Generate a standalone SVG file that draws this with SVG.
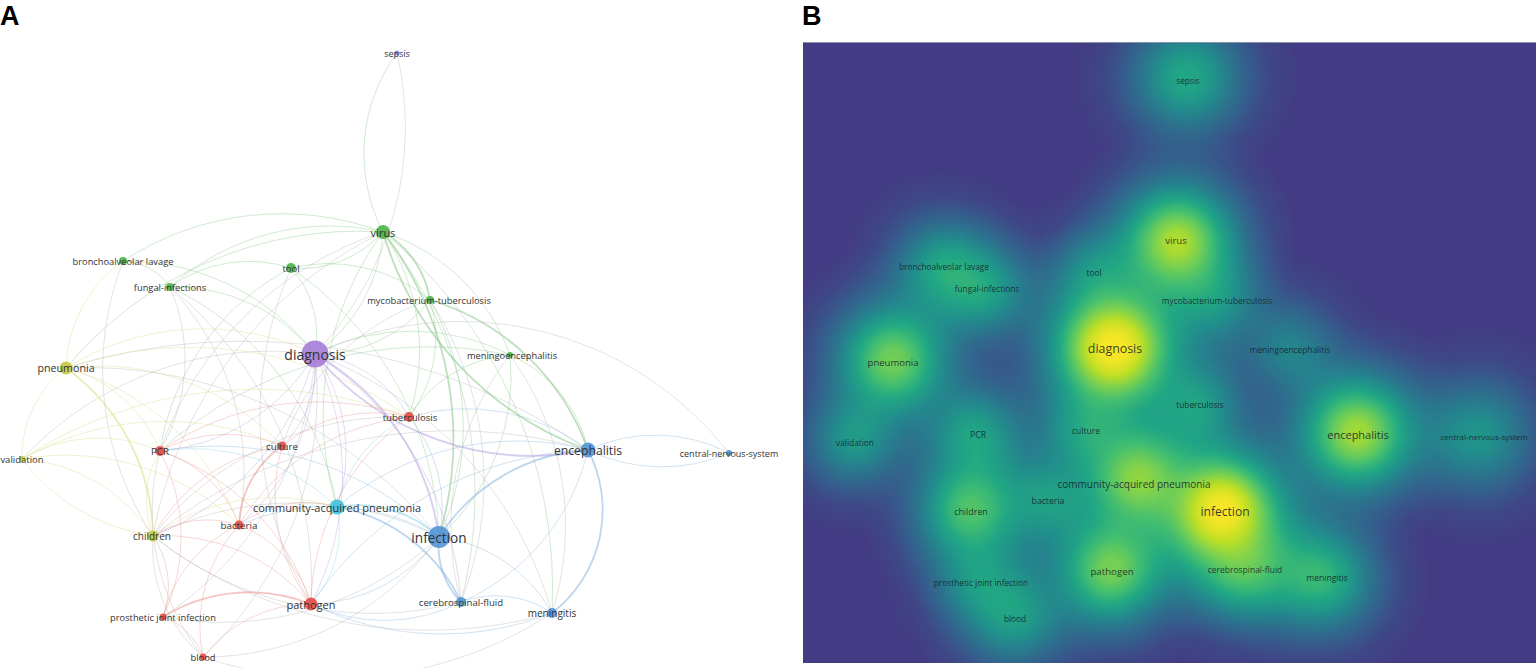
<svg xmlns="http://www.w3.org/2000/svg" width="1536" height="668" viewBox="0 0 1536 668">
<style>
.panel{font-family:"Liberation Sans",Arial,sans-serif;font-weight:bold;font-size:27px;fill:#000}
.lbl{font-family:"Open Sans","DejaVu Sans",sans-serif;fill:#333;text-anchor:middle;dominant-baseline:central}
.hl{font-family:"Open Sans","DejaVu Sans",sans-serif;fill:#15202a;fill-opacity:0.85;text-anchor:middle;dominant-baseline:central}
#edges path{fill:none;stroke-width:0.75;stroke-opacity:0.5}
#edges .g{stroke:#86c686}
#edges .p{stroke:#b8a0e2}
#edges .b{stroke:#86b4e0}
#edges .c{stroke:#86d2e4}
#edges .r{stroke:#ea9690}
#edges .y{stroke:#dada84}
#edges .x{stroke:#b4b4b4}
#edges .t{stroke-width:1.8;stroke-opacity:0.55}
.ng{fill:#45b043}.np{fill:#a47ad6}.ny{fill:#c5c53a}.nr{fill:#e2473f}.nb{fill:#4d92d4}.nc{fill:#3cc0d9}.ns{fill:#8c86c9}
circle.n{fill-opacity:0.88}
.k{fill:url(#kern)}
</style>
<defs>
<radialGradient id="kern">
<stop offset="0" stop-color="#fff" stop-opacity="1"/>
<stop offset="0.1" stop-color="#fff" stop-opacity="0.956"/>
<stop offset="0.2" stop-color="#fff" stop-opacity="0.835"/>
<stop offset="0.3" stop-color="#fff" stop-opacity="0.667"/>
<stop offset="0.4" stop-color="#fff" stop-opacity="0.487"/>
<stop offset="0.5" stop-color="#fff" stop-opacity="0.325"/>
<stop offset="0.6" stop-color="#fff" stop-opacity="0.198"/>
<stop offset="0.7" stop-color="#fff" stop-opacity="0.110"/>
<stop offset="0.8" stop-color="#fff" stop-opacity="0.056"/>
<stop offset="0.9" stop-color="#fff" stop-opacity="0.024"/>
<stop offset="1" stop-color="#fff" stop-opacity="0"/>
</radialGradient>
<clipPath id="clipB"><rect x="803" y="42" width="733" height="621"/></clipPath>
<filter id="viridis" filterUnits="userSpaceOnUse" x="803" y="42" width="733" height="621" color-interpolation-filters="sRGB">
<feComponentTransfer>
<feFuncR type="table" tableValues="0.263 0.208 0.165 0.129 0.133 0.267 0.478 0.741 0.992"/>
<feFuncG type="table" tableValues="0.239 0.373 0.471 0.569 0.659 0.749 0.820 0.875 0.906"/>
<feFuncB type="table" tableValues="0.518 0.553 0.557 0.549 0.518 0.439 0.318 0.149 0.145"/>
<feFuncA type="linear" slope="0" intercept="1"/>
</feComponentTransfer>
</filter>
</defs>
<rect width="1536" height="668" fill="#fff"/>
<text class="panel" x="0" y="25">A</text>
<text class="panel" x="802" y="25">B</text>

<!-- Panel A connectors -->
<g id="edges">
<path class="g" d="M383 232 A170 170 0 0 1 397 53"/>
<path class="x" d="M397 53 A330 330 0 0 1 315 354"/>
<path class="g" d="M383 232 A110 110 0 0 1 291 268"/>
<path class="g" d="M66 368 A380 380 0 0 1 383 232"/>
<path class="g" d="M123 261 A290 290 0 0 1 383 232"/>
<path class="g" d="M170 287 A240 240 0 0 1 383 232"/>
<path class="g t" d="M383 232 A95 95 0 0 1 430 300"/>
<path class="g" d="M383 232 A160 160 0 0 1 315 354"/>
<path class="g" d="M383 232 A200 200 0 0 1 510 355"/>
<path class="g t" d="M588 450 A330 330 0 0 1 383 232"/>
<path class="g t" d="M383 232 A340 340 0 0 1 439 537"/>
<path class="g" d="M383 232 A210 210 0 0 1 409 417"/>
<path class="g" d="M337 507 A310 310 0 0 1 383 232"/>
<path class="g" d="M383 232 A420 420 0 0 1 461 602"/>
<path class="g" d="M383 232 A460 460 0 0 1 552 613"/>
<path class="x" d="M160 451 A350 350 0 0 1 383 232"/>
<path class="x" d="M153 536 A420 420 0 0 1 383 232"/>
<path class="g" d="M291 268 A100 100 0 0 1 315 354"/>
<path class="g" d="M291 268 A160 160 0 0 1 430 300"/>
<path class="g" d="M160 451 A250 250 0 0 1 291 268"/>
<path class="g" d="M170 287 A135 135 0 0 1 291 268"/>
<path class="g" d="M291 268 A340 340 0 0 1 439 537"/>
<path class="x" d="M311 604 A370 370 0 0 1 291 268"/>
<path class="g" d="M123 261 A60 60 0 0 1 170 287"/>
<path class="g" d="M123 261 A240 240 0 0 1 315 354"/>
<path class="y" d="M66 368 A135 135 0 0 1 123 261"/>
<path class="x" d="M153 536 A300 300 0 0 1 123 261"/>
<path class="g" d="M170 287 A180 180 0 0 1 315 354"/>
<path class="x" d="M170 287 A180 180 0 0 1 160 451"/>
<path class="g" d="M170 287 A300 300 0 0 1 337 507"/>
<path class="x" d="M170 287 A270 270 0 0 1 239 525"/>
<path class="x" d="M170 287 A380 380 0 0 1 311 604"/>
<path class="g" d="M430 300 A140 140 0 0 1 315 354"/>
<path class="g" d="M430 300 A130 130 0 0 1 409 417"/>
<path class="g t" d="M430 300 A240 240 0 0 1 588 450"/>
<path class="g" d="M430 300 A260 260 0 0 1 439 537"/>
<path class="x" d="M282 446 A230 230 0 0 1 430 300"/>
<path class="x" d="M430 300 A330 330 0 0 1 461 602"/>
<path class="g" d="M510 355 A135 135 0 0 1 588 450"/>
<path class="g" d="M510 355 A215 215 0 0 1 439 537"/>
<path class="g" d="M315 354 A215 215 0 0 1 510 355"/>
<path class="x" d="M510 355 A290 290 0 0 1 552 613"/>
<path class="g" d="M409 417 A130 130 0 0 1 510 355"/>
<path class="g" d="M160 451 A400 400 0 0 1 510 355"/>
<path class="x" d="M461 602 A280 280 0 0 1 510 355"/>
<path class="p t" d="M315 354 A250 250 0 0 1 439 537"/>
<path class="p t" d="M588 450 A281 281 0 0 1 315 354"/>
<path class="p" d="M315 354 A125 125 0 0 1 409 417"/>
<path class="p" d="M315 354 A110 110 0 0 1 282 446"/>
<path class="p" d="M315 354 A200 200 0 0 1 160 451"/>
<path class="p" d="M315 354 A210 210 0 0 1 239 525"/>
<path class="p" d="M315 354 A280 280 0 0 1 311 604"/>
<path class="p" d="M315 354 A270 270 0 0 1 153 536"/>
<path class="p" d="M315 354 A170 170 0 0 1 337 507"/>
<path class="y" d="M66 368 A260 260 0 0 1 315 354"/>
<path class="p" d="M315 354 A320 320 0 0 1 461 602"/>
<path class="x" d="M315 354 A390 390 0 0 1 552 613"/>
<path class="x" d="M22 459 A340 340 0 0 1 315 354"/>
<path class="x" d="M315 354 A340 340 0 0 1 163 617"/>
<path class="x" d="M315 354 A360 360 0 0 1 203 657"/>
<path class="b t" d="M439 537 A190 190 0 0 1 588 450"/>
<path class="b" d="M439 537 A150 150 0 0 1 552 613"/>
<path class="b t" d="M461 602 A80 80 0 0 1 439 537"/>
<path class="c t" d="M337 507 A120 120 0 0 1 439 537"/>
<path class="b" d="M439 537 A160 160 0 0 1 311 604"/>
<path class="x" d="M153 536 A320 320 0 0 1 439 537"/>
<path class="b" d="M239 525 A220 220 0 0 1 439 537"/>
<path class="b" d="M160 451 A320 320 0 0 1 439 537"/>
<path class="b" d="M409 417 A140 140 0 0 1 439 537"/>
<path class="x" d="M439 537 A290 290 0 0 1 203 657"/>
<path class="x" d="M439 537 A320 320 0 0 1 163 617"/>
<path class="x" d="M66 368 A450 450 0 0 1 439 537"/>
<path class="b" d="M588 450 A160 160 0 0 1 729 453"/>
<path class="b" d="M729 453 A170 170 0 0 1 588 450"/>
<path class="x" d="M315 354 A340 340 0 0 1 729 453"/>
<path class="b t" d="M588 450 A130 130 0 0 1 552 613"/>
<path class="b" d="M588 450 A220 220 0 0 1 461 602"/>
<path class="b" d="M409 417 A200 200 0 0 1 588 450"/>
<path class="b" d="M337 507 A280 280 0 0 1 588 450"/>
<path class="x" d="M153 536 A480 480 0 0 1 588 450"/>
<path class="x" d="M66 368 A600 600 0 0 1 588 450"/>
<path class="b" d="M311 604 A350 350 0 0 1 588 450"/>
<path class="b" d="M461 602 A100 100 0 0 1 552 613"/>
<path class="b" d="M552 613 A300 300 0 0 1 311 604"/>
<path class="b" d="M461 602 A170 170 0 0 1 311 604"/>
<path class="x" d="M552 613 A450 450 0 0 1 153 536"/>
<path class="x" d="M552 613 A400 400 0 0 1 203 657"/>
<path class="x" d="M461 602 A350 350 0 0 1 153 536"/>
<path class="b t" d="M337 507 A170 170 0 0 1 461 602"/>
<path class="c" d="M337 507 A110 110 0 0 1 311 604"/>
<path class="r" d="M239 525 A110 110 0 0 1 337 507"/>
<path class="y" d="M153 536 A210 210 0 0 1 337 507"/>
<path class="c" d="M160 451 A210 210 0 0 1 337 507"/>
<path class="c" d="M337 507 A130 130 0 0 1 409 417"/>
<path class="r" d="M160 451 A140 140 0 0 1 282 446"/>
<path class="r" d="M160 451 A120 120 0 0 1 239 525"/>
<path class="r" d="M160 451 A240 240 0 0 1 311 604"/>
<path class="r" d="M160 451 A280 280 0 0 1 409 417"/>
<path class="y" d="M153 536 A95 95 0 0 1 160 451"/>
<path class="r" d="M160 451 A185 185 0 0 1 163 617"/>
<path class="x" d="M203 657 A235 235 0 0 1 160 451"/>
<path class="y" d="M66 368 A140 140 0 0 1 160 451"/>
<path class="r" d="M239 525 A120 120 0 0 1 311 604"/>
<path class="r" d="M153 536 A100 100 0 0 1 239 525"/>
<path class="r t" d="M239 525 A100 100 0 0 1 282 446"/>
<path class="r" d="M239 525 A225 225 0 0 1 409 417"/>
<path class="r" d="M163 617 A135 135 0 0 1 239 525"/>
<path class="r" d="M203 657 A150 150 0 0 1 239 525"/>
<path class="r t" d="M163 617 A165 165 0 0 1 311 604"/>
<path class="r" d="M203 657 A135 135 0 0 1 311 604"/>
<path class="r" d="M153 536 A190 190 0 0 1 311 604"/>
<path class="r" d="M311 604 A180 180 0 0 1 282 446"/>
<path class="r" d="M311 604 A235 235 0 0 1 409 417"/>
<path class="r" d="M163 617 A65 65 0 0 1 203 657"/>
<path class="r" d="M153 536 A90 90 0 0 1 163 617"/>
<path class="x" d="M203 657 A145 145 0 0 1 153 536"/>
<path class="r" d="M282 446 A145 145 0 0 1 409 417"/>
<path class="r" d="M153 536 A175 175 0 0 1 282 446"/>
<path class="x" d="M153 536 A310 310 0 0 1 409 417"/>
<path class="y" d="M22 459 A110 110 0 0 1 66 368"/>
<path class="y t" d="M66 368 A210 210 0 0 1 153 536"/>
<path class="y" d="M22 459 A170 170 0 0 1 153 536"/>
<path class="y" d="M22 459 A150 150 0 0 1 160 451"/>
<path class="y" d="M66 368 A250 250 0 0 1 282 446"/>
<path class="y" d="M22 459 A250 250 0 0 1 239 525"/>
<path class="y" d="M22 459 A290 290 0 0 1 282 446"/>
<path class="y" d="M66 368 A260 260 0 0 1 239 525"/>
<path class="y" d="M66 368 A380 380 0 0 1 409 417"/>
<path class="y" d="M22 459 A430 430 0 0 1 409 417"/>
<path class="y" d="M153 536 A200 200 0 0 1 22 459"/>
</g>

<!-- Panel A nodes -->
<g id="n-sepsis"><circle class="n ns" cx="397" cy="53" r="2.5"/><text class="lbl" x="397" y="53" font-size="9">sepsis</text></g>
<g id="n-virus"><circle class="n ng" cx="383" cy="232" r="7"/><text class="lbl" x="383" y="232" font-size="11">virus</text></g>
<g id="n-bronchoalveolar-lavage"><circle class="n ng" cx="123" cy="261" r="4"/><text class="lbl" x="123" y="261" font-size="9.3">bronchoalveolar lavage</text></g>
<g id="n-tool"><circle class="n ng" cx="291" cy="268" r="5"/><text class="lbl" x="291" y="268" font-size="9.5">tool</text></g>
<g id="n-fungal-infections"><circle class="n ng" cx="170" cy="287" r="4"/><text class="lbl" x="170" y="287" font-size="9.3">fungal-infections</text></g>
<g id="n-mycobacterium-tuberculosis"><circle class="n ng" cx="430" cy="300" r="4"/><text class="lbl" x="429" y="300" font-size="9.3">mycobacterium-tuberculosis</text></g>
<g id="n-diagnosis"><circle class="n np" cx="315" cy="354" r="13.5"/><text class="lbl" x="315" y="354" font-size="14">diagnosis</text></g>
<g id="n-meningoencephalitis"><circle class="n ng" cx="510" cy="355" r="3"/><text class="lbl" x="512" y="355" font-size="9.3">meningoencephalitis</text></g>
<g id="n-pneumonia"><circle class="n ny" cx="66" cy="368" r="6.5"/><text class="lbl" x="66" y="368" font-size="10.7">pneumonia</text></g>
<g id="n-tuberculosis"><circle class="n nr" cx="409" cy="417" r="5"/><text class="lbl" x="410" y="417" font-size="9.6">tuberculosis</text></g>
<g id="n-culture"><circle class="n nr" cx="282" cy="446" r="4.5"/><text class="lbl" x="282" y="446" font-size="9.7">culture</text></g>
<g id="n-PCR"><circle class="n nr" cx="160" cy="451" r="5"/><text class="lbl" x="160" y="451" font-size="9.7">PCR</text></g>
<g id="n-validation"><circle class="n ny" cx="22" cy="459" r="3"/><text class="lbl" x="22" y="459" font-size="9.5">validation</text></g>
<g id="n-encephalitis"><circle class="n nb" cx="588" cy="450" r="7.5"/><text class="lbl" x="588" y="450" font-size="12.2">encephalitis</text></g>
<g id="n-central-nervous-system"><circle class="n nb" cx="729" cy="453" r="3"/><text class="lbl" x="729" y="453" font-size="9">central-nervous-system</text></g>
<g id="n-community-acquired-pneumonia"><circle class="n nc" cx="337" cy="507" r="7.5"/><text class="lbl" x="337" y="507" font-size="11">community-acquired pneumonia</text></g>
<g id="n-bacteria"><circle class="n nr" cx="239" cy="525" r="4.5"/><text class="lbl" x="239" y="525" font-size="9.8">bacteria</text></g>
<g id="n-children"><circle class="n ny" cx="153" cy="536" r="5.5"/><text class="lbl" x="152" y="536" font-size="10">children</text></g>
<g id="n-infection"><circle class="n nb" cx="439" cy="537" r="11"/><text class="lbl" x="439" y="537" font-size="13.6">infection</text></g>
<g id="n-pathogen"><circle class="n nr" cx="311" cy="604" r="6.5"/><text class="lbl" x="311" y="604" font-size="11">pathogen</text></g>
<g id="n-cerebrospinal-fluid"><circle class="n nb" cx="461" cy="602" r="5"/><text class="lbl" x="461" y="602" font-size="9.6">cerebrospinal-fluid</text></g>
<g id="n-meningitis"><circle class="n nb" cx="552" cy="613" r="5"/><text class="lbl" x="552" y="613" font-size="10">meningitis</text></g>
<g id="n-prosthetic-joint-infection"><circle class="n nr" cx="163" cy="617" r="3.5"/><text class="lbl" x="163" y="617" font-size="9.3">prosthetic joint infection</text></g>
<g id="n-blood"><circle class="n nr" cx="203" cy="657" r="3.5"/><text class="lbl" x="203" y="657" font-size="9.4">blood</text></g>

<!-- Panel B density map (kernel radius = 3 sigma) -->
<g id="density" clip-path="url(#clipB)">
<g filter="url(#viridis)">
<rect x="803" y="42" width="733" height="621" fill="#000"/>
<circle class="k" cx="1187" cy="78" r="112" fill-opacity="0.5"/>
<circle class="k" cx="1177" cy="242" r="120" fill-opacity="0.86"/>
<circle class="k" cx="943" cy="268" r="100" fill-opacity="0.45"/>
<circle class="k" cx="1093" cy="271" r="88" fill-opacity="0.28"/>
<circle class="k" cx="985" cy="290" r="94" fill-opacity="0.42"/>
<circle class="k" cx="1217" cy="300" r="94" fill-opacity="0.33"/>
<circle class="k" cx="1114" cy="348" r="134" fill-opacity="1"/>
<circle class="k" cx="1114" cy="348" r="66" fill-opacity="0.6"/>
<circle class="k" cx="1290" cy="349" r="94" fill-opacity="0.3"/>
<circle class="k" cx="893" cy="360" r="116" fill-opacity="0.74"/>
<circle class="k" cx="1198" cy="404" r="94" fill-opacity="0.4"/>
<circle class="k" cx="1085" cy="430" r="94" fill-opacity="0.36"/>
<circle class="k" cx="976" cy="434" r="100" fill-opacity="0.45"/>
<circle class="k" cx="854" cy="441" r="94" fill-opacity="0.4"/>
<circle class="k" cx="1357" cy="433" r="120" fill-opacity="0.84"/>
<circle class="k" cx="1478" cy="436" r="112" fill-opacity="0.4"/>
<circle class="k" cx="1138" cy="478" r="114" fill-opacity="0.76"/>
<circle class="k" cx="1047" cy="500" r="94" fill-opacity="0.38"/>
<circle class="k" cx="970" cy="510" r="110" fill-opacity="0.64"/>
<circle class="k" cx="1222" cy="511" r="128" fill-opacity="1"/>
<circle class="k" cx="1222" cy="511" r="60" fill-opacity="0.5"/>
<circle class="k" cx="1111" cy="570" r="115" fill-opacity="0.74"/>
<circle class="k" cx="1244" cy="569" r="110" fill-opacity="0.55"/>
<circle class="k" cx="1322" cy="578" r="110" fill-opacity="0.56"/>
<circle class="k" cx="979" cy="582" r="94" fill-opacity="0.35"/>
<circle class="k" cx="1015" cy="618" r="100" fill-opacity="0.42"/>
</g>
</g>
<line x1="803" y1="42.5" x2="1536" y2="42.5" stroke="#8890a8" stroke-width="1"/>

<!-- Panel B labels -->
<g id="b-sepsis"><text class="hl" x="1188" y="80" font-size="8.2">sepsis</text></g>
<g id="b-virus"><text class="hl" x="1176" y="240" font-size="9.6">virus</text></g>
<g id="b-bronchoalveolar-lavage"><text class="hl" x="944" y="266" font-size="8.3">bronchoalveolar lavage</text></g>
<g id="b-tool"><text class="hl" x="1094" y="272" font-size="8.3">tool</text></g>
<g id="b-fungal-infections"><text class="hl" x="987" y="288" font-size="8.3">fungal-infections</text></g>
<g id="b-mycobacterium-tuberculosis"><text class="hl" x="1217" y="300" font-size="8.3">mycobacterium-tuberculosis</text></g>
<g id="b-diagnosis"><text class="hl" x="1115" y="348" font-size="12.4">diagnosis</text></g>
<g id="b-meningoencephalitis"><text class="hl" x="1290" y="349" font-size="8.3">meningoencephalitis</text></g>
<g id="b-pneumonia"><text class="hl" x="893" y="362" font-size="9.5">pneumonia</text></g>
<g id="b-tuberculosis"><text class="hl" x="1200" y="404" font-size="8.3">tuberculosis</text></g>
<g id="b-culture"><text class="hl" x="1086" y="430" font-size="8.5">culture</text></g>
<g id="b-PCR"><text class="hl" x="978" y="435" font-size="8.6">PCR</text></g>
<g id="b-validation"><text class="hl" x="855" y="442" font-size="8.3">validation</text></g>
<g id="b-encephalitis"><text class="hl" x="1358" y="434" font-size="11">encephalitis</text></g>
<g id="b-central-nervous-system"><text class="hl" x="1484" y="436" font-size="8">central-nervous-system</text></g>
<g id="b-community-acquired-pneumonia"><text class="hl" x="1134" y="484" font-size="10">community-acquired pneumonia</text></g>
<g id="b-bacteria"><text class="hl" x="1048" y="501" font-size="8.7">bacteria</text></g>
<g id="b-children"><text class="hl" x="971" y="511" font-size="8.9">children</text></g>
<g id="b-infection"><text class="hl" x="1225" y="511" font-size="12.1">infection</text></g>
<g id="b-pathogen"><text class="hl" x="1112" y="571" font-size="9.7">pathogen</text></g>
<g id="b-cerebrospinal-fluid"><text class="hl" x="1245" y="569" font-size="8.5">cerebrospinal-fluid</text></g>
<g id="b-meningitis"><text class="hl" x="1327" y="578" font-size="8.6">meningitis</text></g>
<g id="b-prosthetic-joint-infection"><text class="hl" x="981" y="582" font-size="8.3">prosthetic joint infection</text></g>
<g id="b-blood"><text class="hl" x="1015" y="618" font-size="8.3">blood</text></g>
</svg>
